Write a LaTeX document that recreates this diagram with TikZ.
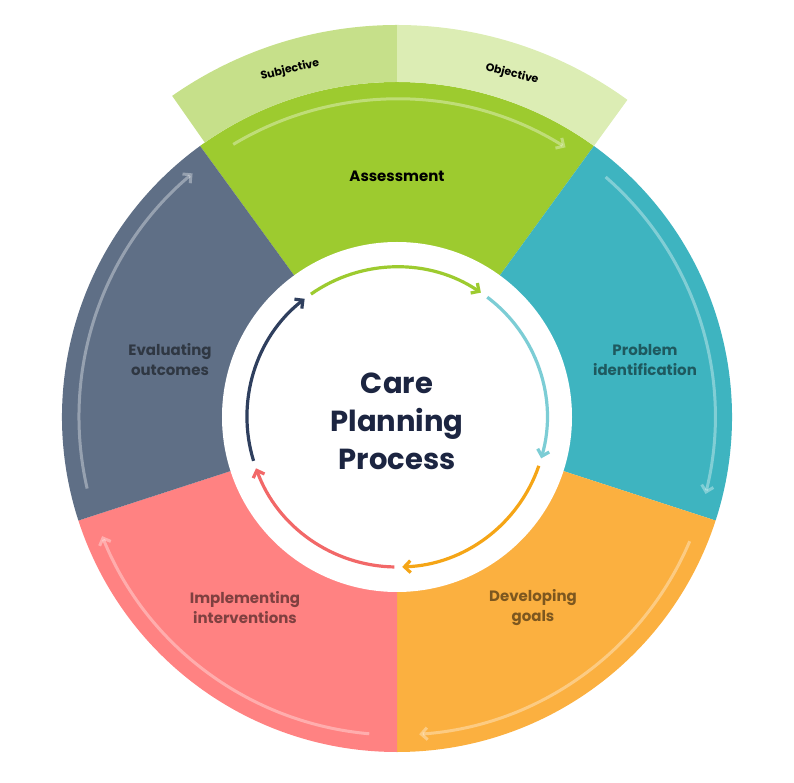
\documentclass[tikz,border=0pt]{standalone}
\usepackage{fontspec}
\setmainfont{Poppins}
\usetikzlibrary{arrows.meta}
\definecolor{assessgreen}{HTML}{9DCB2F}
\definecolor{subjgreen}{HTML}{C6E08A}
\definecolor{objgreen}{HTML}{DCEDB4}
\definecolor{probteal}{HTML}{3EB4C0}
\definecolor{devorange}{HTML}{FBB040}
\definecolor{implred}{HTML}{FF8282}
\definecolor{evalslate}{HTML}{5F6F86}
\definecolor{navytext}{HTML}{1C2541}
\definecolor{ringteal}{HTML}{7CCDD5}
\definecolor{ringorange}{HTML}{F5A516}
\definecolor{ringred}{HTML}{F26868}
\definecolor{ringnavy}{HTML}{2F3F5E}

\begin{document}
\begin{tikzpicture}[x=1pt, y=1pt,
  seglabel/.style={font=\fontsize{15}{20}\selectfont\bfseries, align=center, text=black, text opacity=0.5},
  bandlabel/.style={font=\fontsize{11}{13}\selectfont\bfseries, inner sep=1pt},
  outerarrow/.style={white, opacity=0.35, line width=3pt, -{Straight Barb[length=6pt, width=12pt]}},
  innerarrow/.style={line width=3.2pt, -{Straight Barb[length=6pt, width=12pt]}}]
  \useasboundingbox (-397,-366) rectangle (397,417);
  % segments
  \foreach \a/\b/\c in {126/54/assessgreen, 54/-18/probteal, -18/-90/devorange, -90/-162/implred, -162/-234/evalslate}
    \fill[\c] (0,0) -- (\a:335) arc[start angle=\a, end angle=\b, radius=335] -- cycle;
  % subjective / objective band
  \fill[subjgreen] (125:335) arc[start angle=125, end angle=90, radius=335] -- (90:392) arc[start angle=90, end angle=125, radius=392] -- cycle;
  \fill[objgreen] (90:335) arc[start angle=90, end angle=54, radius=335] -- (54:392) arc[start angle=54, end angle=90, radius=392] -- cycle;
  \node[bandlabel, rotate=13] (subj) at (-107,347) {Subjective};
  \node[bandlabel, rotate=-14] (obj) at (115,343) {Objective};
  % outer arrows
  \foreach \a in {126, 54, -18, -90, -162}
    \draw[outerarrow] (\a-5:318) arc[start angle=\a-5, end angle=\a-68, radius=318];
  % centre
  \fill[white] (0,0) circle[radius=175];
  \draw[innerarrow, assessgreen] (125:150) arc[start angle=125, end angle=56, radius=150];
  \draw[innerarrow, ringteal] (53:150) arc[start angle=53, end angle=-16, radius=150];
  \draw[innerarrow, ringorange] (-19:150) arc[start angle=-19, end angle=-88, radius=150];
  \draw[innerarrow, ringred] (-91:150) arc[start angle=-91, end angle=-160, radius=150];
  \draw[innerarrow, ringnavy] (-163:150) arc[start angle=-163, end angle=-232, radius=150];
  \node[font=\fontsize{29}{38}\selectfont\bfseries, text=navytext, align=center] (title) at (0,-4) {Care\\Planning\\Process};
  % labels
  \node[font=\fontsize{15}{18}\selectfont\bfseries] (assess) at (0,241) {Assessment};
  \node[seglabel] (prob) at (248,57) {Problem\\identification};
  \node[seglabel] (dev) at (136,-191) {Developing\\goals};
  \node[seglabel] (impl) at (-152,-191) {Implementing\\interventions};
  \node[seglabel] (eval) at (-227,57) {Evaluating\\outcomes};
\end{tikzpicture}
\end{document}
